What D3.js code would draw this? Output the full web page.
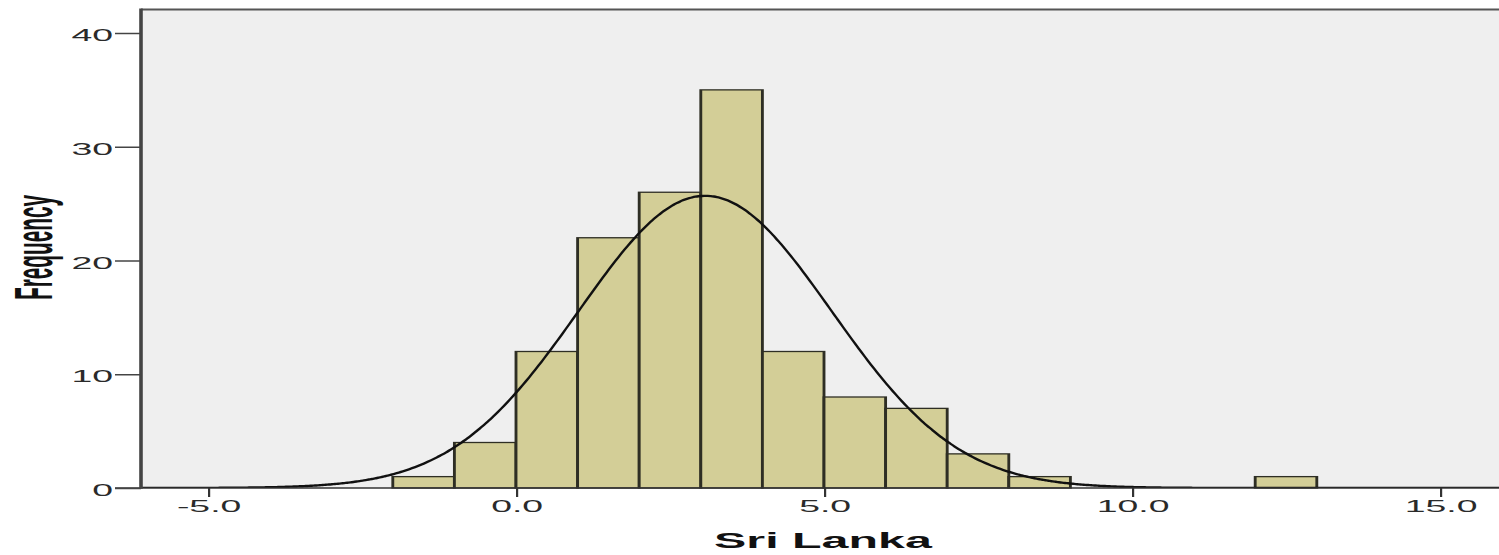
<!DOCTYPE html>
<html>
<head>
<meta charset="utf-8">
<script src="https://cdn.jsdelivr.net/npm/d3@7"></script>
<style>
  html, body { margin: 0; padding: 0; background: #fff; overflow: hidden; }
  svg { display: block; }
</style>
</head>
<body>
<div id="figure"></div>
<script>
'use strict';

// histogram bins (width 1) and their counts
const binStarts = [-2, -1, 0, 1, 2, 3, 4, 5, 6, 7, 8, 12];
const frequencies = [1, 4, 12, 22, 26, 35, 12, 8, 7, 3, 1, 1];
const binWidth = 1;

const xTicks = [-5, 0, 5, 10, 15];
const yTicks = [0, 10, 20, 30, 40];

// fitted normal curve
const curveMean = 3.07;
const curveSd = 2.05;

const xLabel = 'Sri Lanka';
const yLabel = 'Frequency';

function drawFigure() {
  const width = 1499;
  const height = 555;
  // the picture is stretched sideways, so draw in a narrow box and let it stretch
  const sx = 2.2;
  const vbW = width / sx;

  const plot = {
    left: 141 / sx,
    right: vbW,
    top: 10,
    bottom: 488,
  };

  const x = d3.scaleLinear()
    .domain([-5, 15])
    .range([208 / sx, 1440 / sx]);

  const y = d3.scaleLinear()
    .domain([0, 40])
    .range([488, 33]);

  const svg = d3.select('div#figure')
    .append('svg')
    .attr('width', width)
    .attr('height', height)
    .attr('viewBox', [0, 0, vbW, height])
    .attr('preserveAspectRatio', 'none');

  svg.append('rect')
    .attr('x', plot.left)
    .attr('y', plot.top)
    .attr('width', plot.right - plot.left)
    .attr('height', plot.bottom - plot.top)
    .attr('fill', '#efefef');

  svg.append('clipPath')
    .attr('id', 'plot-clip')
    .append('rect')
    .attr('x', plot.left)
    .attr('y', plot.top)
    .attr('width', plot.right - plot.left)
    .attr('height', plot.bottom - plot.top);

  const bins = d3.zip(binStarts, frequencies);

  svg.append('g')
    .selectAll('rect')
    .data(bins)
    .join('rect')
    .attr('x', d => x(d[0]))
    .attr('y', d => y(d[1]))
    .attr('width', d => x(d[0] + binWidth) - x(d[0]))
    .attr('height', d => y(0) - y(d[1]))
    .attr('fill', '#d3ce97')
    .attr('stroke', '#2e2e24')
    .attr('stroke-width', 1.3);

  const n = d3.sum(frequencies);
  const density = v => n * binWidth / (curveSd * Math.sqrt(2 * Math.PI)) *
    Math.exp(-((v - curveMean) ** 2) / (2 * curveSd * curveSd));

  const curvePts = d3.range(x.invert(plot.left), x.invert(plot.right) + 0.05, 0.05)
    .map(v => [v, density(v)]);

  const line = d3.line()
    .curve(d3.curveBasis)
    .x(d => x(d[0]))
    .y(d => y(d[1]));

  svg.append('path')
    .datum(curvePts)
    .attr('clip-path', 'url(#plot-clip)')
    .attr('fill', 'none')
    .attr('stroke', '#111')
    .attr('stroke-width', 2.4)
    .attr('vector-effect', 'non-scaling-stroke')
    .attr('d', line);

  // frame: top and left borders, baseline
  svg.append('line')
    .attr('x1', plot.left).attr('x2', plot.right)
    .attr('y1', 9.5).attr('y2', 9.5)
    .attr('stroke', '#555')
    .attr('stroke-width', 2);

  svg.append('line')
    .attr('x1', 115 / sx).attr('x2', plot.right)
    .attr('y1', plot.bottom).attr('y2', plot.bottom)
    .attr('stroke', '#333')
    .attr('stroke-width', 1.6);

  // y axis
  const yAxis = svg.append('g')
    .attr('transform', `translate(${plot.left}, 0)`)
    .call(d3.axisLeft(y)
      .tickValues(yTicks)
      .tickSize(26 / sx)
      .tickPadding(2 / sx)
      .tickFormat(d3.format('d')));
  yAxis.select('.domain').remove();
  yAxis.selectAll('.tick line')
    .attr('stroke', '#444')
    .attr('stroke-width', 1.5);
  yAxis.selectAll('.tick text')
    .attr('dy', '0.45em')
    .attr('fill', '#2a2a2a')
    .style('font-family', '"Liberation Sans", Arial, sans-serif')
    .style('font-size', '17px');

  svg.append('line')
    .attr('x1', plot.left).attr('x2', plot.left)
    .attr('y1', 8.5).attr('y2', plot.bottom + 0.8)
    .attr('stroke', '#444')
    .attr('stroke-width', 3.6 / sx);

  // x axis
  const xAxis = svg.append('g')
    .attr('transform', `translate(0, ${plot.bottom})`)
    .call(d3.axisBottom(x)
      .tickValues(xTicks)
      .tickSize(9)
      .tickPadding(3)
      .tickFormat(d3.format('.1f')));
  xAxis.select('.domain').remove();
  xAxis.selectAll('.tick line')
    .attr('stroke', '#333')
    .attr('stroke-width', 1);
  xAxis.selectAll('.tick text')
    .attr('fill', '#2a2a2a')
    .text(d => d3.format('.1f')(d).replace('\u2212', '-'))
    .style('font-family', '"Liberation Sans", Arial, sans-serif')
    .style('font-size', '17px');

  svg.append('text')
    .attr('x', 823 / sx)
    .attr('y', 548)
    .attr('text-anchor', 'middle')
    .attr('fill', '#111')
    .style('font-family', '"Liberation Sans", Arial, sans-serif')
    .style('font-weight', 'bold')
    .style('font-size', '22px')
    .text(xLabel);

  svg.append('text')
    .attr('transform', `translate(${52 / sx}, 247.5) rotate(-90)`)
    .attr('text-anchor', 'middle')
    .attr('fill', '#111')
    .attr('textLength', 105)
    .attr('lengthAdjust', 'spacingAndGlyphs')
    .style('font-family', '"Liberation Sans Narrow", "Liberation Sans", Arial, sans-serif')
    .style('font-weight', 'bold')
    .style('font-size', '24px')
    .text(yLabel);
}

drawFigure();
</script>
</body>
</html>
